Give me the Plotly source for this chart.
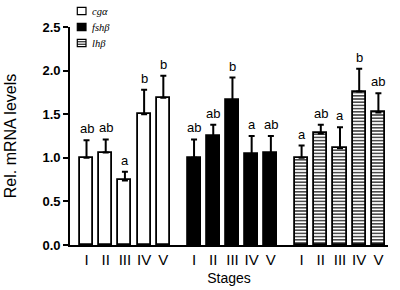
import plotly.graph_objects as go

stages = ["I", "II", "III", "IV", "V"]
genes = ["cgα", "fshβ", "lhβ"]

cga_vals = [1.00, 1.06, 0.74, 1.50, 1.69]
cga_err = [0.20, 0.15, 0.10, 0.28, 0.25]
cga_sig = ["ab", "ab", "a", "b", "b"]

fsh_vals = [1.00, 1.25, 1.66, 1.04, 1.05]
fsh_err = [0.21, 0.13, 0.26, 0.21, 0.20]
fsh_sig = ["ab", "ab", "b", "a", "ab"]

lh_vals = [1.00, 1.28, 1.11, 1.76, 1.52]
lh_err = [0.14, 0.10, 0.24, 0.26, 0.22]
lh_sig = ["a", "ab", "a", "b", "ab"]

W, H = 400, 290
ML, MR, MT, MB = 70, 12, 27, 45
group_step = 5.6
styles = [
    dict(color="white", pattern=None),
    dict(color="black", pattern=None),
    dict(color="white", pattern=dict(shape="-", fgcolor="black", size=3.2, solidity=0.35)),
]
FONT = "Liberation Sans, Arial"


def px_x(px):
    return (px - ML) / (W - ML - MR)


def px_y(py):
    return (H - MB - py) / (H - MT - MB)


fig = go.Figure()
tickvals, ticktext = [], []
ann = []
shapes = []
for g, (name, vals, errs, sigs) in enumerate(zip(
        genes, [cga_vals, fsh_vals, lh_vals], [cga_err, fsh_err, lh_err], [cga_sig, fsh_sig, lh_sig])):
    xs = [g * group_step + i for i in range(len(stages))]
    st = styles[g]
    marker = dict(color=st["color"], line=dict(color="black", width=1.8))
    if st["pattern"]:
        marker["pattern"] = st["pattern"]
    fig.add_trace(go.Bar(
        x=xs, y=vals, name=name, width=0.68, marker=marker, showlegend=False,
        error_y=dict(type="data", symmetric=False, array=errs, arrayminus=[0] * len(errs),
                     color="black", thickness=2, width=3),
    ))
    tickvals += xs
    ticktext += stages
    for x, v, e, s in zip(xs, vals, errs, sigs):
        ann.append(dict(x=x, y=v + e, text=s, showarrow=False, yanchor="bottom", yshift=2,
                        font=dict(family=FONT, size=13, color="black")))

    # legend entry (drawn in the top margin)
    top = 7.3 + g * 16
    bx0, bx1, by0, by1 = px_x(77.3), px_x(86), px_y(top), px_y(top + 7.4)
    shapes.append(dict(type="rect", xref="paper", yref="paper", x0=bx0, x1=bx1, y0=by1, y1=by0,
                       fillcolor=st["color"], line=dict(color="black", width=1.2)))
    if st["pattern"]:
        for k in (1, 2):
            yy = px_y(top + 7.4 * k / 3)
            shapes.append(dict(type="line", xref="paper", yref="paper", x0=bx0, x1=bx1, y0=yy, y1=yy,
                               line=dict(color="black", width=1)))
    ann.append(dict(xref="paper", yref="paper", x=px_x(89.5), y=px_y(top + 3.7), text=f"<i>{name}</i>",
                    showarrow=False, xanchor="left", yanchor="middle",
                    font=dict(family="Liberation Serif, Times New Roman", size=10.5, color="black")))

fig.update_layout(
    template="none",
    width=W, height=H,
    margin=dict(l=ML, r=MR, t=MT, b=MB, autoexpand=False),
    paper_bgcolor="white", plot_bgcolor="white",
    showlegend=False,
    annotations=ann,
    shapes=shapes,
    bargap=0,
)
fig.update_xaxes(
    range=[-0.86, 15.7], tickvals=tickvals, ticktext=ticktext, showgrid=False, zeroline=False,
    showline=True, linecolor="black", linewidth=1.8, ticks="", ticklen=0,
    tickfont=dict(family=FONT, size=15, color="black"),
    title=dict(text="Stages", font=dict(family=FONT, size=14, color="black"), standoff=6),
)
fig.update_yaxes(
    range=[0, 2.5], tickvals=[0, 0.5, 1.0, 1.5, 2.0, 2.5],
    ticktext=["<b>0.0</b>", "<b>0.5</b>", "<b>1.0</b>", "<b>1.5</b>", "<b>2.0</b>", "<b>2.5</b>"],
    showgrid=False, zeroline=False, showline=True, linecolor="black", linewidth=1.8,
    ticks="outside", ticklen=5, tickwidth=1.8, tickcolor="black",
    tickfont=dict(family=FONT, size=13, color="black"),
    title=dict(text="Rel. mRNA levels", font=dict(family=FONT, size=16, color="black"), standoff=22),
)
fig.write_html("out.html", config={"displayModeBar": False},
               post_script="document.body.style.margin='0';")
